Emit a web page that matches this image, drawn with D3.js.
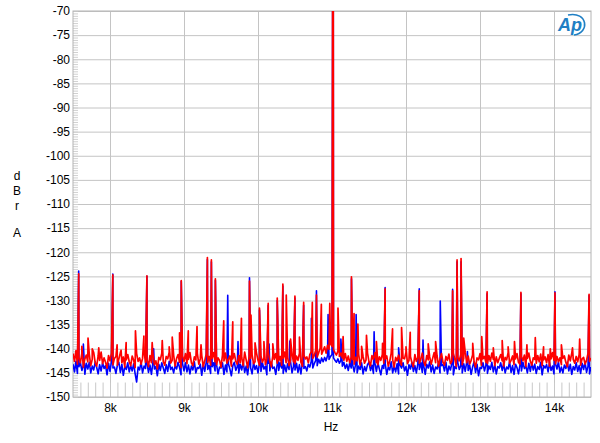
<!DOCTYPE html>
<html><head><meta charset="utf-8">
<script src="https://cdn.jsdelivr.net/npm/d3@7/dist/d3.min.js"></script>
<style>
body{margin:0;background:#fff;}
text{font-family:"Liberation Sans",Arial,sans-serif;}
</style></head>
<body><svg id="c" width="600" height="443"></svg>
<script>
// ---------- data ----------
const floorStart = 7500, floorStep = 20;
const redFloor = [
-141.0,-142.6,-140.4,-143.2,-141.8,-142.9,-140.9,-143.8,-142.1,-141.3,
-142.7,-141.1,-143.5,-142.2,-140.8,-142.9,-143.6,-141.5,-142.4,-140.7,
-143.1,-141.9,-142.8,-144.0,-141.4,-142.5,-140.9,-143.3,-142.0,-141.6,
-143.4,-142.1,-140.8,-142.9,-141.7,-143.8,-142.3,-141.2,-142.7,-143.5,
-141.5,-142.4,-143.9,-141.0,-142.6,-141.9,-143.2,-142.0,-140.6,-142.8,
-142.2,-143.7,-141.4,-142.9,-141.1,-143.3,-142.5,-144.2,-141.8,-142.3,
-140.9,-142.7,-143.4,-141.6,-142.1,-140.7,-143.0,-142.4,-141.3,-143.6,
-142.0,-141.2,-142.8,-143.9,-141.5,-142.6,-141.0,-143.1,-142.2,-140.8,
-142.9,-143.5,-141.7,-142.3,-140.9,-143.2,-142.1,-141.4,-143.7,-142.5,
-141.1,-142.8,-141.6,-143.4,-142.0,-140.8,-142.7,-143.3,-141.9,-142.4,
-143.8,-141.3,-142.5,-140.9,-143.0,-142.2,-141.5,-143.6,-142.1,-141.0,
-142.6,-143.2,-141.4,-142.9,-141.8,-143.5,-140.7,-142.3,-143.9,-141.6,
-142.0,-141.2,-143.1,-142.7,-140.9,-142.4,-143.4,-141.5,-142.8,-141.9,
-143.3,-142.1,-140.8,-142.6,-143.7,-141.4,-142.2,-141.0,-143.0,-142.5,
-141.6,-143.4,-142.0,-140.7,-142.9,-141.8,-143.5,-142.3,-141.2,-142.7,
-143.1,-141.5,-142.4,-140.9,-142.8,-143.6,-141.3,-142.1,-141.7,-142.9,
-141.2,-140.6,-142.0,-141.4,-140.3,-141.7,-140.8,-139.9,-141.1,-140.4,
-139.6,-140.9,-139.3,-140.1,-139.0,-139.5,-140.2,-140.8,-141.3,-140.5,
-141.6,-140.9,-141.9,-142.4,-141.0,-142.6,-141.5,-142.9,-141.7,-142.2,
-143.2,-141.8,-142.5,-141.1,-143.4,-142.0,-141.6,-143.0,-142.3,-140.9,
-142.7,-143.5,-141.4,-142.2,-140.8,-142.9,-143.3,-141.7,-142.4,-141.2,
-143.0,-142.1,-141.5,-143.6,-142.6,-140.9,-142.3,-143.8,-141.8,-142.5,
-141.3,-142.8,-143.4,-141.9,-142.1,-140.7,-143.1,-142.4,-141.6,-142.9,
-143.7,-141.2,-142.6,-141.8,-143.0,-142.2,-140.9,-142.7,-143.5,-141.4,
-142.3,-141.7,-143.2,-142.0,-140.8,-142.9,-141.5,-143.6,-142.1,-141.0,
-142.8,-143.4,-141.6,-142.4,-141.1,-143.1,-142.6,-140.9,-142.2,-143.7,
-141.8,-142.5,-141.2,-143.3,-142.0,-140.7,-142.9,-141.5,-143.2,-142.4,
-141.3,-142.7,-143.8,-141.9,-142.3,-141.0,-143.4,-142.1,-141.6,-142.8,
-143.1,-141.4,-142.6,-140.9,-142.2,-143.5,-141.7,-142.9,-142.0,-141.2,
-142.5,-143.6,-141.8,-142.3,-140.8,-143.0,-142.4,-141.5,-143.3,-142.1,
-141.0,-142.8,-143.2,-141.6,-142.5,-141.3,-143.7,-142.0,-140.9,-142.6,
-143.4,-141.9,-142.2,-143.0,-141.4,-142.7,-141.1,-143.5,-142.3,-141.7,
-142.9,-141.2,-143.6,-142.1,-140.8,-142.4,-143.1,-141.6,-142.7,-141.9,
-143.3,-142.0,-141.5,-142.8,-143.7,-141.3,-142.5,-140.9,-142.2,-143.0,
-141.6,-142.7,-141.2,-143.4,-142.1,-141.8,-143.2,-142.4,-140.9,-142.6,
-141.9
];
const blueFloor = [
-143.2,-144.8,-142.6,-145.1,-143.7,-142.9,-144.5,-143.4,-145.3,-143.0,
-144.2,-142.8,-145.0,-143.6,-144.4,-142.7,-143.9,-145.2,-143.3,-144.6,
-142.9,-144.1,-143.5,-145.4,-143.0,-144.7,-142.6,-144.0,-143.8,-145.1,
-143.4,-142.8,-144.9,-143.2,-145.5,-143.7,-144.3,-142.9,-144.8,-143.5,
-144.6,-143.1,-145.2,-146.9,-143.8,-144.4,-142.7,-145.0,-143.6,-144.1,
-143.0,-144.9,-143.4,-145.3,-142.8,-144.2,-143.7,-145.6,-143.2,-144.5,
-142.9,-144.0,-145.1,-143.3,-144.7,-142.6,-144.3,-143.8,-145.0,-143.5,
-144.2,-142.8,-143.9,-145.4,-143.1,-144.6,-142.9,-144.8,-143.4,-145.2,
-143.6,-144.4,-142.7,-145.0,-143.9,-144.1,-143.2,-145.5,-143.0,-144.7,
-142.8,-144.3,-143.5,-145.1,-143.7,-142.9,-144.6,-143.3,-145.2,-143.8,
-144.0,-142.9,-145.3,-143.4,-144.8,-143.1,-144.2,-145.6,-143.5,-142.8,
-144.5,-143.7,-145.0,-143.2,-144.4,-142.7,-144.9,-143.6,-145.4,-143.0,
-143.9,-145.2,-142.8,-144.3,-143.5,-145.0,-143.1,-144.7,-142.9,-144.2,
-143.6,-145.4,-143.0,-144.6,-142.8,-144.1,-143.8,-145.3,-143.2,-144.5,
-142.9,-144.0,-145.1,-143.4,-144.8,-143.1,-144.3,-142.7,-145.0,-143.6,
-144.4,-143.0,-144.9,-143.3,-145.2,-142.8,-144.1,-143.7,-144.6,-143.2,
-143.8,-142.6,-144.0,-143.1,-142.4,-143.5,-142.2,-143.0,-141.9,-142.7,
-141.8,-142.5,-141.4,-142.2,-141.6,-141.2,-141.9,-142.4,-142.8,-142.1,
-143.0,-142.4,-143.6,-142.8,-144.1,-143.2,-144.5,-142.9,-144.0,-143.4,
-144.8,-143.1,-145.0,-143.6,-144.3,-142.9,-145.2,-143.7,-144.6,-143.3,
-142.8,-144.5,-143.4,-145.1,-143.0,-144.7,-142.9,-144.2,-145.4,-143.5,
-144.1,-143.2,-145.3,-143.8,-144.4,-142.7,-145.0,-143.6,-144.8,-143.1,
-145.2,-143.4,-144.0,-142.9,-144.6,-143.7,-145.5,-143.3,-144.2,-142.8,
-144.7,-143.5,-145.0,-143.1,-144.3,-142.9,-144.9,-143.6,-145.3,-143.2,
-144.0,-142.7,-144.8,-143.4,-145.1,-143.8,-144.2,-142.9,-145.0,-143.5,
-143.3,-144.6,-142.8,-145.2,-143.6,-144.4,-143.0,-145.4,-143.7,-144.1,
-142.9,-144.3,-143.5,-145.0,-143.1,-144.7,-142.8,-144.5,-143.4,-145.3,
-143.8,-142.7,-144.9,-143.2,-145.6,-143.9,-144.1,-142.9,-144.6,-143.4,
-145.1,-143.6,-144.3,-142.8,-144.8,-143.3,-145.2,-143.7,-144.0,-142.9,
-144.5,-143.1,-145.0,-143.8,-144.2,-142.7,-144.9,-143.5,-145.3,-143.2,
-143.9,-145.2,-143.4,-144.6,-142.8,-144.1,-143.6,-145.0,-143.0,-144.7,
-142.9,-144.4,-143.2,-145.1,-143.7,-144.3,-142.8,-145.4,-143.5,-144.0,
-143.3,-144.8,-142.9,-144.5,-143.6,-145.2,-143.1,-144.2,-142.7,-144.9,
-143.8,-145.0,-143.4,-144.1,-142.8,-144.6,-143.2,-145.3,-143.7,-144.4,
-142.9,-144.7,-143.5,-145.1,-143.0,-144.3,-142.8,-144.9,-143.6,-145.2,
-143.8
];
const redPeaks = [
[7577,-124.5],[7620,-139.5],[7703,-137.8],[7760,-140.0],[7848,-139.8],[8038,-124.7],[8096,-139.2],
[8150,-140.3],[8218,-138.7],[8344,-136.3],[8458,-137.4],[8499,-124.9],[8570,-138.7],[8706,-138.3],
[8800,-139.6],[8841,-137.6],[8940,-136.7],[8963,-125.9],[9058,-136.3],[9176,-135.4],[9230,-139.2],
[9316,-121.1],[9370,-121.6],[9424,-125.5],[9537,-134.2],[9659,-134.4],[9776,-133.7],[9885,-126.0],
[9905,-133.0],[9960,-138.8],[10020,-131.6],[10080,-138.5],[10138,-130.6],[10200,-139.0],[10260,-129.5],
[10336,-126.6],[10382,-128.9],[10440,-138.0],[10499,-129.1],[10560,-137.6],[10617,-130.4],[10734,-130.4],
[10790,-128.9],[10856,-130.8],[10970,-130.6],[11015,-12.0],[11081,-131.6],[11150,-137.5],[11263,-125.1],
[11298,-132.7],[11350,-134.9],[11400,-139.5],[11466,-137.2],[11600,-138.5],[11683,-138.9],[11718,-127.6],
[11818,-135.9],[11940,-135.6],[12000,-139.6],[12057,-136.6],[12179,-128.0],[12300,-139.0],[12400,-138.5],
[12630,-128.0],[12690,-121.6],[12744,-121.3],[12780,-137.8],[12902,-138.9],[13024,-137.5],[13096,-128.2],
[13180,-139.8],[13300,-138.3],[13380,-139.6],[13466,-138.5],[13553,-128.3],[13634,-139.2],[13747,-137.7],
[13859,-139.6],[13950,-140.0],[14013,-128.4],[14100,-139.2],[14250,-139.8],[14347,-138.0],[14474,-128.7]
];
const bluePeaks = [
[7577,-123.9],[7640,-139.0],[8038,-124.5],[8499,-125.0],[8590,-140.0],[8963,-126.0],[9316,-121.5],
[9370,-122.0],[9424,-125.8],[9591,-128.9],[9730,-138.5],[9885,-125.3],[10020,-132.0],[10138,-131.0],
[10150,-139.0],[10260,-130.0],[10336,-127.0],[10430,-138.4],[10499,-129.5],[10617,-131.0],[10721,-133.7],
[10790,-128.0],[10947,-132.9],[11015,-12.0],[11120,-138.0],[11263,-125.5],[11326,-132.9],[11569,-136.5],
[11718,-127.3],[11900,-139.8],[12179,-127.6],[12230,-138.2],[12463,-130.1],[12630,-127.7],[12690,-122.0],
[12744,-122.0],[12830,-140.6],[13096,-128.6],[13553,-128.6],[14013,-128.2],[14474,-129.0]
];
const xTicks = [8000,9000,10000,11000,12000,13000,14000];
const xTickLabels = ["8k","9k","10k","11k","12k","13k","14k"];
const yTicks = [-150,-145,-140,-135,-130,-125,-120,-115,-110,-105,-100,-95,-90,-85,-80,-75,-70];

// ---------- layout ----------
const L = 73, R = 591, T = 11, B = 397;
const svg = d3.select("#c");
const x = d3.scaleLinear().domain([7500,14500]).range([L,R]);
const y = d3.scaleLinear().domain([-150,-70]).range([B,T]);

// grid
svg.append("g").attr("transform",`translate(0,${B})`)
  .call(d3.axisBottom(x).tickValues(xTicks).tickSize(-(B-T)).tickFormat(""))
  .call(g=>g.select(".domain").remove())
  .call(g=>g.selectAll("line").attr("stroke","#c4c4c4"));
svg.append("g").attr("transform",`translate(${L},0)`)
  .call(d3.axisLeft(y).tickValues(yTicks).tickSize(-(R-L)).tickFormat(""))
  .call(g=>g.select(".domain").remove())
  .call(g=>g.selectAll("line").attr("stroke","#c4c4c4"));

// minor ticks
const xMinor = d3.range(7600,14500,100);
svg.append("g").attr("transform",`translate(0,${B})`)
  .call(d3.axisBottom(x).tickValues(xMinor).tickSize(-(B-y(-147))).tickFormat(""))
  .call(g=>g.select(".domain").remove())
  .call(g=>g.selectAll("line").attr("stroke","#c8c8c8"));
const yMinor = d3.range(-150,-69.9,0.5);
svg.append("g").attr("transform",`translate(${L},0)`)
  .call(d3.axisLeft(y).tickValues(yMinor).tickSize(-5).tickFormat(""))
  .call(g=>g.select(".domain").remove())
  .call(g=>g.selectAll("line").attr("stroke","#d0d0d0"));

// border
svg.append("rect").attr("x",L).attr("y",T).attr("width",R-L).attr("height",B-T)
  .attr("fill","none").attr("stroke","#b4b4b4");

// labels
svg.append("g").attr("transform",`translate(${L},0)`)
  .call(d3.axisLeft(y).tickValues(yTicks).tickSize(0).tickPadding(3).tickFormat(d=>String(d)))
  .call(g=>g.select(".domain").remove())
  .call(g=>g.selectAll("text").attr("font-size",12).attr("fill","#000").attr("font-family","Liberation Sans, Arial, sans-serif"));
svg.append("g").attr("transform",`translate(0,${B})`)
  .call(d3.axisBottom(x).tickValues(xTicks).tickSize(0).tickPadding(6).tickFormat((d,i)=>xTickLabels[i]))
  .call(g=>g.select(".domain").remove())
  .call(g=>g.selectAll("text").attr("font-size",12).attr("fill","#000").attr("font-family","Liberation Sans, Arial, sans-serif"));

svg.append("text").attr("x",331).attr("y",431).attr("text-anchor","middle").attr("font-size",12).text("Hz");
[["d",180],["B",195],["r",210],["A",237]].forEach(([t,yy])=>{
  svg.append("text").attr("x",17).attr("y",yy).attr("text-anchor","middle").attr("font-size",12).text(t);
});

// series
function build(floor, peaks){
  const pts = floor.map((v,i)=>[floorStart+i*floorStep, v]);
  return pts.concat(peaks).sort((a,b)=>a[0]-b[0]);
}
svg.append("clipPath").attr("id","clip").append("rect")
  .attr("x",L).attr("y",T).attr("width",R-L).attr("height",B-T);
const line = d3.line().x(d=>x(d[0])).y(d=>y(d[1]));
const plot = svg.append("g").attr("clip-path","url(#clip)");
plot.append("path").attr("d",line(build(blueFloor,bluePeaks)))
  .attr("fill","none").attr("stroke","#0000ff").attr("stroke-width",1.6).attr("stroke-linejoin","round");
plot.append("path").attr("d",line(build(redFloor,redPeaks)))
  .attr("fill","none").attr("stroke","#ff0000").attr("stroke-width",1.7).attr("stroke-linejoin","round");

// AP logo
const logo = svg.append("g").attr("transform","translate(558,31)");
logo.append("text").attr("x",0).attr("y",0).attr("font-size",18).attr("font-style","italic")
  .attr("font-weight","bold").attr("fill","#1f7fc4").attr("font-family","Liberation Sans, Arial, sans-serif").text("Ap");
logo.append("path").attr("d","M10,-16 C30,-20 32,2 16,4").attr("fill","none").attr("stroke","#1f7fc4").attr("stroke-width",1.6);
</script></body></html>
